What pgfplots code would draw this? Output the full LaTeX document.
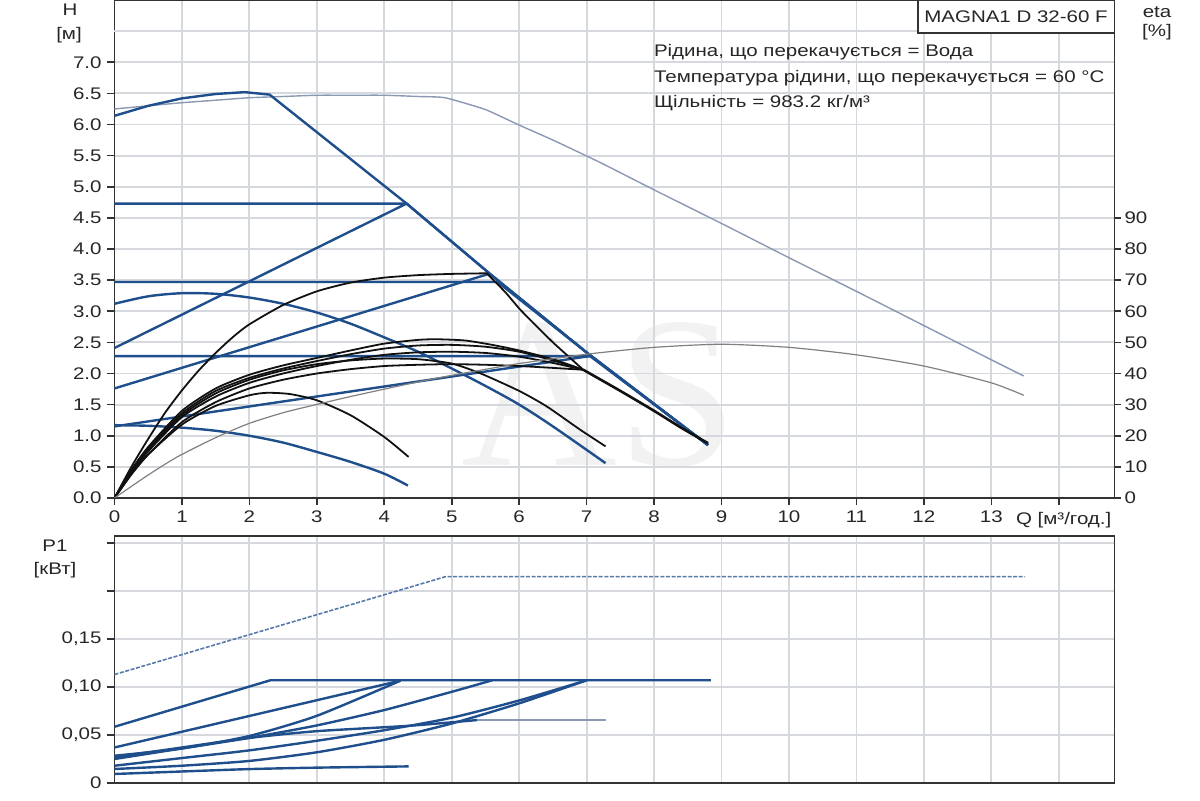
\documentclass[border=0pt]{standalone}
\usepackage{pgfplots}
\pgfplotsset{compat=1.18}
\usepackage{fontspec}
\setmainfont[FakeStretch=1.22]{Liberation Sans}
\newfontfamily\wmfont{Liberation Serif}
\definecolor{cblue}{HTML}{1F4E8C}
\definecolor{cthin}{HTML}{8A98B2}
\definecolor{cgrid}{HTML}{D5D8DC}
\definecolor{caxis}{HTML}{333333}
\definecolor{cedge}{HTML}{A8ABB0}
\definecolor{ctext}{HTML}{262626}
\definecolor{ceta}{HTML}{111111}
\pgfplotsset{
  base/.style={
    scale only axis, width=500pt, xmin=0, xmax=14.826,
    grid=major, major grid style={cgrid, line width=0.9pt},
    axis line style={caxis, line width=0.9pt},
    x axis line style={cedge},
    tick style={caxis, line width=0.8pt},
    tick align=outside, major tick length=3.5pt,
    xtick pos=left, ytick pos=left,
    ticklabel style={font=\fontsize{8.4pt}{10pt}\selectfont, text=ctext},
    clip=false,
  },
  bl/.style={cblue, line width=1.2pt, line join=round},
  ek/.style={ceta, line width=0.9pt, smooth, tension=0.4},
}
\begin{document}
\fontsize{8.4pt}{10pt}\selectfont
\begin{tikzpicture}
\path[use as bounding box] (0,0) rectangle (600pt,400pt);
\node[text=black!5, inner sep=0pt, text height=70pt, text depth=0pt, font=\wmfont\fontsize{108pt}{108pt}\selectfont, anchor=south] at (300pt,167pt) {AS};
% ---------------- top panel ----------------
\begin{axis}[base, at={(57.25pt,151pt)}, anchor=south west, height=249pt,
  ymin=0, ymax=8,
  xtick={0,1,2,3,4,5,6,7,8,9,10,11,12,13,14},
  xticklabels={0,1,2,3,4,5,6,7,8,9,10,11,12,13,{}},
  ytick={0,0.5,1,1.5,2,2.5,3,3.5,4,4.5,5,5.5,6,6.5,7},
  yticklabels={0.0,0.5,1.0,1.5,2.0,2.5,3.0,3.5,4.0,4.5,5.0,5.5,6.0,6.5,7.0},
  extra y ticks={7.5}, extra y tick labels={},
  extra y tick style={major tick length=0pt},
]
\draw[caxis, line width=0.9pt] (rel axis cs:0,0) -- (rel axis cs:1,0);
% thin max line
\addplot[cthin, line width=0.7pt, smooth, tension=0.3] coordinates {(0,6.25)(0.5,6.3)(1,6.35)(1.5,6.39)(2,6.43)(2.5,6.45)(3,6.47)(3.5,6.47)(4,6.47)(4.5,6.45)(4.9,6.43)(5.5,6.24)(6,5.99)(6.5,5.75)(7.2,5.39)(8,4.95)(9,4.41)(10,3.86)(11,3.32)(12,2.77)(13,2.22)(13.48,1.96)};
% max curve + limit line
\addplot[bl] coordinates {(0,6.14)(0.5,6.3)(1,6.42)(1.5,6.49)(1.93,6.52)(2.3,6.48)(4.33,4.73)(5.6,3.57)(7.02,2.32)(8.8,0.85)};
\addplot[bl] coordinates {(0,4.73)(4.33,4.73)(5.6,3.57)(7.02,2.32)(8.8,0.85)};
\addplot[bl] coordinates {(0,2.41)(4.33,4.73)};
\addplot[bl] coordinates {(0,3.47)(5.68,3.47)(7.02,2.32)(8.8,0.85)};
\addplot[bl] coordinates {(0,1.76)(5.55,3.6)};
\addplot[bl] coordinates {(0,2.28)(7.05,2.28)(8.8,0.85)};
\addplot[bl] coordinates {(0,1.15)(7.05,2.28)};
% lower speed curve
\addplot[bl, smooth, tension=0.5] coordinates {(0,3.12)(0.5,3.24)(1,3.29)(1.5,3.28)(2,3.22)(2.5,3.12)(3,2.98)(3.5,2.8)(4,2.58)(4.5,2.35)(5,2.08)(5.5,1.8)(6,1.5)(6.5,1.15)(7.28,0.56)};
% min curve
\addplot[bl, smooth, tension=0.5] coordinates {(0,1.17)(0.5,1.16)(1,1.13)(1.5,1.08)(2,1.0)(2.5,0.89)(3,0.74)(3.5,0.58)(4,0.39)(4.35,0.2)};
% eta curves
\addplot[ek] coordinates {(0,0)(0.25,0.5)(0.5,0.95)(0.75,1.37)(1,1.73)(1.25,2.05)(1.5,2.33)(1.75,2.58)(2,2.79)(2.5,3.1)(3,3.32)(3.5,3.46)(4,3.54)(4.5,3.58)(5,3.6)(5.52,3.61)};
\addplot[ek, tension=0.2] coordinates {(5.52,3.61)(5.8,3.3)(6.02,3.02)(6.5,2.5)(6.95,2.06)};
\addplot[ek, line width=1.3pt] coordinates {(6.95,2.06)(7.5,1.72)(8,1.4)(8.4,1.13)(8.8,0.88)};
\addplot[ek] coordinates {(0,0)(0.25,0.45)(0.5,0.82)(1,1.4)(1.5,1.76)(2,1.98)(2.5,2.13)(3,2.25)(3.5,2.37)(4,2.48)(4.5,2.54)(4.78,2.55)(5.2,2.53)(5.6,2.46)(6,2.37)(6.5,2.23)(6.95,2.06)};
\addplot[ek] coordinates {(0,0)(0.25,0.43)(0.5,0.8)(1,1.36)(1.5,1.72)(2,1.93)(2.5,2.08)(3,2.2)(3.5,2.31)(4,2.4)(4.5,2.45)(5,2.46)(5.5,2.43)(6,2.35)(6.5,2.21)(6.95,2.06)};
\addplot[ek] coordinates {(0,0)(0.25,0.4)(0.5,0.75)(1,1.3)(1.5,1.63)(2,1.85)(2.5,2.0)(3,2.12)(3.5,2.22)(4,2.3)(4.5,2.34)(5,2.35)(5.5,2.33)(6,2.27)(6.5,2.17)(6.95,2.06)};
\addplot[ek] coordinates {(0,0)(0.25,0.38)(0.5,0.7)(1,1.22)(1.5,1.54)(2,1.76)(2.5,1.9)(3,2.0)(3.5,2.07)(4,2.12)(4.5,2.14)(5,2.15)(5.5,2.14)(6,2.12)(6.5,2.09)(6.95,2.06)};
\addplot[ek] coordinates {(0,0)(0.25,0.42)(0.5,0.78)(1,1.33)(1.5,1.68)(2,1.9)(2.5,2.05)(3,2.15)(3.5,2.21)(4,2.24)(4.5,2.23)(5,2.16)(5.43,2.0)(6,1.72)(6.41,1.47)(6.9,1.1)(7.28,0.83)};
\addplot[ek] coordinates {(0,0)(0.25,0.38)(0.5,0.7)(1,1.18)(1.5,1.48)(2,1.65)(2.26,1.69)(2.6,1.67)(3,1.57)(3.5,1.33)(4,0.98)(4.36,0.66)};
\addplot[gray, line width=0.6pt, smooth, tension=0.4] coordinates {(0,0)(0.5,0.37)(0.93,0.66)(1.5,0.97)(2,1.2)(2.5,1.37)(2.91,1.48)(3.5,1.63)(4.39,1.84)(5,1.97)(6,2.16)(7,2.31)(8,2.42)(9,2.47)(10,2.42)(11,2.3)(12,2.12)(13,1.85)(13.48,1.65)};
\end{axis}
% eta axis
\begin{axis}[at={(57.25pt,151pt)}, anchor=south west, scale only axis, width=500pt, height=249pt,
  xmin=0, xmax=1, ymin=0, ymax=160, axis x line=none, axis y line*=right,
  axis line style={caxis, line width=0.9pt}, tick style={caxis, line width=0.8pt},
  tick align=outside, major tick length=3pt,
  ytick={0,10,20,30,40,50,60,70,80,90},
  yticklabels={0,10,20,30,40,50,60,70,80,90},
  yticklabel style={font=\fontsize{8.4pt}{10pt}\selectfont, text=ctext, anchor=west, xshift=-1pt},
]
\end{axis}
% ---------------- bottom panel ----------------
\begin{axis}[base, at={(57.25pt,8.5pt)}, anchor=south west, height=123.5pt,
  ymin=0, ymax=0.2573,
  xtick={0,1,2,3,4,5,6,7,8,9,10,11,12,13,14}, xticklabels={},
  x tick style={draw=none},
  ytick={0,0.05,0.1,0.15,0.2,0.25},
  yticklabels={0,{0,05},{0,10},{0,15},{},{}},
]
\draw[caxis, line width=0.9pt] (rel axis cs:0,1) -- (rel axis cs:1,1);
\addplot[cblue!75, line width=0.8pt, dash pattern=on 2pt off 0.8pt] coordinates {(0,0.113)(4.91,0.215)(13.5,0.215)};
\addplot[bl] coordinates {(0,0.0586)(2.31,0.107)(8.84,0.107)};
\addplot[bl] coordinates {(0,0.037)(4.24,0.1066)};
\addplot[bl, smooth, tension=0.4] coordinates {(0,0.0284)(1,0.036)(2,0.049)(3,0.07)(4.24,0.1066)};
\addplot[bl, smooth, tension=0.4] coordinates {(0,0.027)(1,0.037)(2,0.047)(3,0.054)(4.39,0.0597)(5.38,0.0656)};
\addplot[cthin, line width=1.2pt] coordinates {(5.38,0.0656)(7.28,0.0656)};
\addplot[bl, smooth, tension=0.4] coordinates {(0,0.025)(1,0.036)(2,0.047)(3,0.06)(4,0.076)(5,0.095)(5.6,0.107)};
\addplot[bl, smooth, tension=0.4] coordinates {(0,0.018)(1,0.026)(2,0.034)(3,0.044)(4,0.055)(5,0.068)(6,0.086)(7,0.107)};
\addplot[bl, smooth, tension=0.4] coordinates {(0,0.0146)(1,0.018)(2,0.023)(3,0.032)(4,0.045)(5,0.062)(6,0.083)(7,0.107)};
\addplot[bl, smooth, tension=0.4] coordinates {(0,0.0094)(1,0.012)(2,0.0145)(3,0.016)(4.36,0.0173)};
\end{axis}
% ---------------- texts ----------------
\node[text=ctext] at (35pt,395pt) {H};
\node[text=ctext] at (34.5pt,382.5pt) {[м]};
\node[text=ctext] at (578.5pt,394pt) {eta};
\node[text=ctext] at (578.5pt,384pt) {[\%]};
\draw[caxis, line width=0.6pt, fill=white] (459pt,400pt) rectangle (557.25pt,383.5pt);
\node[text=ctext] at (508pt,391.7pt) {MAGNA1 D 32-60 F};
\node[text=ctext, anchor=base west] at (324pt,371.5pt) {Рідина, що перекачується = Вода};
\node[text=ctext, anchor=base west] at (324pt,358.8pt) {Температура рідини, що перекачується = 60 °C};
\node[text=ctext, anchor=base west] at (324pt,346pt) {Щільність = 983.2 кг/м³};
\node[text=ctext, anchor=west] at (505pt,140pt) {Q [м³/год.]};
\node[text=ctext] at (27.5pt,127pt) {P1};
\node[text=ctext] at (27.5pt,115pt) {[кВт]};
\end{tikzpicture}
\end{document}
